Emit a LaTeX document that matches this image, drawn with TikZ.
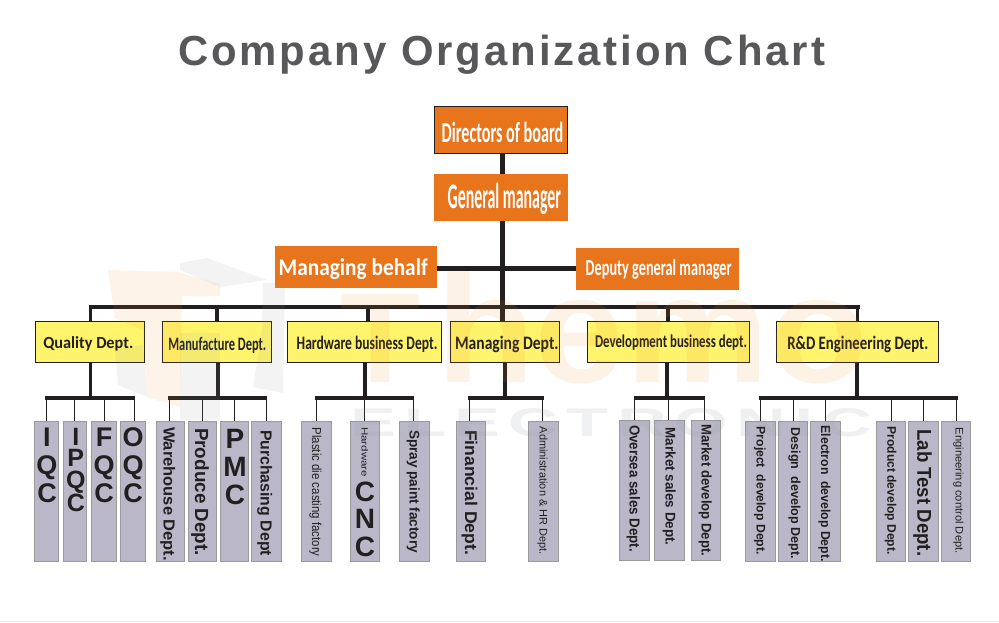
\documentclass[tikz,border=0pt]{standalone}
\usepackage{fontspec}
\usepackage{graphicx}
\setmainfont{Liberation Sans}
\newfontfamily\boxfont{Carlito}
\newfontfamily\titlefont[LetterSpace=7]{Liberation Sans}
\newfontfamily\wideelec[LetterSpace=12]{Liberation Sans}
\definecolor{orangebox}{HTML}{E8741C}
\definecolor{yellowbox}{HTML}{FFF46C}
\definecolor{greybox}{HTML}{BAB8C8}
\definecolor{greyedge}{HTML}{9A9A9A}
\definecolor{barblack}{HTML}{231F20}
\definecolor{titlegrey}{HTML}{58585A}
\definecolor{wmorange}{HTML}{F08A20}
\definecolor{wmgrey}{HTML}{8A9298}
\newcommand{\fitw}[3]{\resizebox{#1pt}{\height}{\fontsize{#2}{#2}\selectfont #3}}
\tikzset{
  orangenode/.style={fill=orangebox,draw=none,inner sep=0pt},
  yellownode/.style={fill=yellowbox,draw=barblack,line width=0.7pt,inner sep=0pt},
  greynode/.style={fill=greybox,draw=greyedge,line width=0.6pt,inner sep=0pt},
  txt/.style={inner sep=0pt,outer sep=0pt,anchor=base west},
  vtxt/.style={inner sep=0pt,outer sep=0pt,anchor=base west,rotate=-90,text=barblack},
  stacktxt/.style={inner sep=0pt,outer sep=0pt,anchor=north,align=center,text=barblack},
  trunk/.style={draw=barblack,line width=5pt},
  bar/.style={draw=barblack,line width=4pt,line cap=butt},
  stem/.style={draw=barblack,line width=3.5pt},
  drop/.style={draw=barblack,line width=1.1pt},
  wmo/.style={inner sep=0pt,outer sep=0pt,anchor=base west,text=wmorange,text opacity=0.11},
}
% box: name, style, x0, y0, x1, y1
\newcommand{\bx}[6]{%
  \pgfmathsetmacro{\bxw}{#5-#3}\pgfmathsetmacro{\bxh}{#6-#4}%
  \pgfmathsetmacro{\bxx}{(#3+#5)/2}\pgfmathsetmacro{\bxy}{(#4+#6)/2}%
  \node[#2,minimum width=\bxw pt,minimum height=\bxh pt] (#1) at (\bxx,\bxy) {};}
% leaf box with its thin drop from the bar: name, x0, x1, y0, y1, dropx
\newcommand{\leaf}[6]{%
  \bx{#1}{greynode}{#2}{#4}{#3}{#5}%
  \coordinate (d#1) at (#6,398);
  \draw[drop] (d#1) -- (d#1 |- #1.north);}
% vertical label: name, base x, start y, length, size, weight, text
\newcommand{\vlab}[7]{\node[vtxt] (#1) at (#2,#3) {#6\fitw{#4}{#5}{#7}};}
\begin{document}
\begin{tikzpicture}[x=1pt,y=-1pt]
\useasboundingbox (0,0) rectangle (999,622);
\fill[white] (0,0) rectangle (999,622);
\coordinate (bl) at (0,621.5);
\coordinate (br) at (999,621.5);
\draw[draw={rgb,255:red,255;green,255;blue,51},line width=1pt] (bl) -- (br);

\node[txt,text=titlegrey] (title) at (178,65) {\titlefont\bfseries\fitw{647}{42}{Company Organization Chart}};

% boxes
\bx{dir}{orangenode,draw=barblack,line width=0.8pt}{434.5}{106.5}{567.5}{153.5}
\bx{mgr}{orangenode}{434}{174}{568}{221}
\bx{mb}{orangenode}{275}{246}{437}{288}
\bx{dgm}{orangenode}{576}{248}{739}{290}
\bx{qd}{yellownode}{35}{321.5}{144.5}{362.5}
\bx{mf}{yellownode}{162.5}{321.5}{271.5}{362.5}
\bx{hb}{yellownode}{287.5}{321.5}{441.5}{362.5}
\bx{md}{yellownode}{450.5}{321.5}{559.5}{362.5}
\bx{db}{yellownode}{587.5}{321.5}{749.5}{362.5}
\bx{rd}{yellownode}{776.5}{321.5}{938.5}{362.5}

% main connectors
\coordinate (tr) at (502.5,268);
\coordinate (tbl) at (90.5,307);
\coordinate (tbr) at (857.5,307);
\draw[trunk] (tr |- dir.south) -- (tr |- mgr.north);
\draw[trunk] (tr |- mgr.south) -- (tr |- md.north);
\draw[trunk] (mb.east |- tr) -- (dgm.west |- tr);
\draw[bar] ([xshift=-2pt]tbl) -- ([xshift=2pt]tbr);
\coordinate (q1) at (90.5,307); \draw[stem] (q1) -- (q1 |- qd.north);
\coordinate (q2) at (217,307);  \draw[stem] (q2) -- (q2 |- mf.north);
\coordinate (q3) at (368,307);  \draw[stem] (q3) -- (q3 |- hb.north);
\coordinate (q4) at (668,307);  \draw[stem] (q4) -- (q4 |- db.north);
\coordinate (q5) at (857.5,307);\draw[stem] (q5) -- (q5 |- rd.north);

% lower bars and stems
\coordinate (s1) at (90.5,398); \draw[stem] (qd.south -| s1) -- (s1);
\coordinate (s2) at (218,398);  \draw[stem] (mf.south -| s2) -- (s2);
\coordinate (s3) at (365,398);  \draw[stem] (hb.south -| s3) -- (s3);
\coordinate (s4) at (505,398);  \draw[stem] (md.south -| s4) -- (s4);
\coordinate (s5) at (667,398);  \draw[stem] (db.south -| s5) -- (s5);
\coordinate (s6) at (857,398);  \draw[stem] (rd.south -| s6) -- (s6);
\coordinate (b1a) at (45,398);  \coordinate (b1b) at (135,398); \draw[bar] (b1a) -- (b1b);
\coordinate (b2a) at (168,398); \coordinate (b2b) at (267,398); \draw[bar] (b2a) -- (b2b);
\coordinate (b3a) at (315,398); \coordinate (b3b) at (414,398); \draw[bar] (b3a) -- (b3b);
\coordinate (b4a) at (468,398); \coordinate (b4b) at (544,398); \draw[bar] (b4a) -- (b4b);
\coordinate (b5a) at (634,398); \coordinate (b5b) at (705,398); \draw[bar] (b5a) -- (b5b);
\coordinate (b6a) at (759,398); \coordinate (b6b) at (958,398); \draw[bar] (b6a) -- (b6b);

% leaves
\leaf{iqc}{34}{58.5}{421}{561.5}{46.3}
\leaf{ipqc}{63}{86.5}{421}{561.5}{74.3}
\leaf{fqc}{91}{116}{421}{561.5}{104.3}
\leaf{oqc}{120}{145}{421}{561.5}{134.3}
\leaf{wh}{156}{184.5}{421}{561.5}{169.3}
\leaf{pr}{188}{216.5}{421}{561.5}{202.3}
\leaf{pmc}{220}{248.5}{421}{561.5}{234.3}
\leaf{pu}{251}{281}{421}{561.5}{266.3}
\leaf{pl}{301}{331}{421}{561.5}{316.3}
\leaf{cnc}{350}{379}{421}{561.5}{364.3}
\leaf{sp}{399}{429}{421}{561.5}{413.3}
\leaf{fi}{456}{485}{421}{561.5}{469.3}
\leaf{ad}{528}{558}{421}{561.5}{542.3}
\leaf{ov}{619}{649}{420}{560.5}{634.7}
\leaf{ms}{654}{684}{420}{560.5}{668.3}
\leaf{mk}{691}{720}{420}{560.5}{704.3}
\leaf{pj}{745}{775}{421}{561.5}{760.3}
\leaf{de}{778}{807}{421}{561.5}{793.3}
\leaf{el}{810}{840}{421}{561.5}{825.3}
\leaf{pd}{876}{905}{421}{561.5}{891.3}
\leaf{lb}{908}{938}{421}{561.5}{923.3}
\leaf{en}{941}{970}{421}{561.5}{956.3}

% orange labels
\node[txt,text=white] (tdir) at (441.7,142.7) {\boxfont\bfseries\fitw{121.7}{29}{Directors of board}};
\node[txt,text=white] (tmgr) at (447.7,208.3) {\boxfont\bfseries\fitw{113.3}{36}{General manager}};
\node[txt,text=white] (tmb) at (278.7,275.7) {\boxfont\bfseries\fitw{149}{24}{Managing behalf}};
\node[txt,text=white] (tdgm) at (585.7,275.7) {\boxfont\bfseries\fitw{146}{23}{Deputy general manager}};

% yellow labels
\node[txt,text=barblack] (tqd) at (43.3,348) {\boxfont\bfseries\fitw{90}{17}{Quality Dept.}};
\node[txt,text=barblack] (tmf) at (168.3,350) {\boxfont\bfseries\fitw{98}{19}{Manufacture Dept.}};
\node[txt,text=barblack] (thb) at (296.7,349) {\boxfont\bfseries\fitw{140.7}{19}{Hardware business Dept.}};
\node[txt,text=barblack] (tmd) at (455,349) {\boxfont\bfseries\fitw{103.6}{19}{Managing Dept.}};
\node[txt,text=barblack] (tdb) at (595,347.3) {\boxfont\bfseries\fitw{152}{18}{Development business dept.}};
\node[txt,text=barblack] (trd) at (787.3,349.3) {\boxfont\bfseries\fitw{141}{19}{R\&D Engineering Dept.}};

% stacked labels
\node[stacktxt,font=\fontsize{27}{28}\selectfont\bfseries] (liqc) at (47,428) {I\\Q\\C};
\node[stacktxt,font=\fontsize{25}{21.5}\selectfont\bfseries] (lipqc) at (75.8,428) {I\\P\\Q\\C};
\node[stacktxt,font=\fontsize{27}{28}\selectfont\bfseries] (lfqc) at (104,428) {F\\Q\\C};
\node[stacktxt,font=\fontsize{27}{28}\selectfont\bfseries] (loqc) at (133,428) {O\\Q\\C};
\node[stacktxt,font=\fontsize{28}{28}\selectfont\bfseries] (lpmc) at (235,429.5) {P\\M\\C};
\node[stacktxt,font=\fontsize{28}{27.3}\selectfont\bfseries] (lcnc) at (365,482) {C\\N\\C};

% vertical labels
\vlab{lwh}{163.5}{427}{134}{16}{\bfseries}{Warehouse Dept.}
\vlab{lpr}{195}{428}{128}{19}{\bfseries}{Produce Dept.}
\vlab{lpu}{260.7}{430}{126}{16}{\bfseries}{Purchasing Dept}
\vlab{lpl}{312}{427.7}{129}{13}{}{Plastic die casting factory}
\vlab{lhw}{361.7}{427}{50}{9}{}{Hardware}
\vlab{lsp}{409.7}{430}{123}{14}{\bfseries}{Spray paint factory}
\vlab{lfi}{465}{430}{125}{17}{\bfseries}{Financial Dept.}
\vlab{lad}{539.5}{426.7}{128}{11}{}{Administration \& HR Dept.}
\vlab{lov}{629.5}{425}{127}{14.5}{\bfseries}{Oversea sales Dept.}
\vlab{lms}{665.7}{427.7}{118}{14}{\bfseries}{Market sales Dept.}
\vlab{lmk}{701.7}{424.3}{132}{14}{\bfseries}{Market develop Dept.}
\vlab{lpj}{756.7}{426.7}{128}{12.5}{\bfseries}{Project\ \ develop Dept.}
\vlab{lde}{791}{427.7}{131}{13}{\bfseries}{Design\ \ develop Dept.}
\vlab{lel}{821}{425.7}{136}{13}{\bfseries}{Electron\ \ develop Dept.}
\vlab{lpd}{887.3}{426.7}{128}{12.5}{\bfseries}{Product develop Dept.}
\vlab{llb}{917.3}{429.3}{127}{20}{\bfseries}{Lab Test Dept.}
\vlab{len}{955.7}{427.7}{126}{11}{}{Engineering control Dept.}

% watermark, laid faintly over the chart
\begin{scope}[fill opacity=0.10]
\fill[wmorange] (108,270) -- (177,272) -- (220,284) -- (220,296) -- (182,296) -- (180,407) -- (147,397) -- (143,330) -- (115,318) -- cycle;
\fill[wmgrey] (115,350) -- (143,345) -- (147,397) -- (118,385) -- cycle;
\fill[wmgrey] (180,333) -- (220,333) -- (220,420) -- (180,420) -- cycle;
\fill[wmgrey] (180,263) -- (207,258) -- (267,280) -- (220,287) -- (180,270) -- cycle;
\fill[wmgrey] (263,283) -- (285,283) -- (283,393) -- (253,387) -- (262,330) -- cycle;
\end{scope}
\node[wmo] (wmt) at (340,382) {\bfseries\fitw{80}{128}{T}};
\node[wmo] (wmh) at (436,382) {\bfseries\fitw{432}{153}{hemo}};
\node[inner sep=0pt,outer sep=0pt,anchor=base west,text=wmgrey,text opacity=0.13] (wme) at (350,436.5) {\wideelec\bfseries\fitw{522}{40}{ELECTRONIC}};
\end{tikzpicture}
\end{document}
